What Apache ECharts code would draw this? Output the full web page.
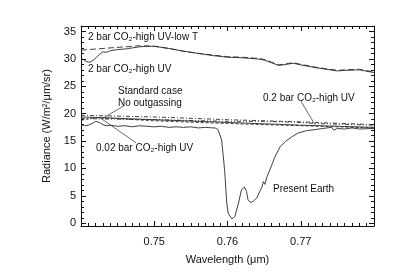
<!DOCTYPE html>
<html><head><meta charset="utf-8">
<script src="https://cdn.jsdelivr.net/npm/echarts@6/dist/echarts.min.js"></script>
<style>html,body{margin:0;padding:0;background:#fff}#c{width:399px;height:278px}</style>
</head><body><div id="c"></div>
<script>
// ---- data ----
const lowTWl   = [0.740,0.742,0.744,0.746,0.748,0.750,0.752,0.754,0.756,0.758,0.760,0.762,0.764,0.765,0.766,0.767,0.768,0.769,0.770,0.772,0.774,0.775,0.776,0.778,0.780];
const lowTVal  = [31.6,31.8,32.0,32.2,32.4,32.3,31.9,31.4,31.0,30.7,30.4,30.3,30.1,29.9,29.4,28.9,29.1,29.3,29.0,28.5,28.1,27.9,28.0,28.1,27.6];
const highUVWl  = [0.7402,0.7406,0.7410,0.7414,0.7418,0.7422,0.7426,0.7430,0.7435,0.7440,0.7450,0.7460,0.7470,0.7480,0.7490,0.750,0.752,0.754,0.756,0.758,0.760,0.762,0.764,0.765,0.766,0.767,0.768,0.769,0.770,0.772,0.774,0.775,0.776,0.778,0.780];
const highUVVal = [30.0,29.6,29.4,29.5,29.9,30.4,30.9,31.3,31.2,31.5,31.7,31.8,32.0,32.2,32.3,32.3,31.9,31.4,31.0,30.6,30.3,30.2,30.0,29.8,29.3,28.8,29.0,29.2,28.9,28.4,28.0,27.8,27.9,28.0,27.5];
const stdWl   = [0.740,0.750,0.760,0.770,0.780];
const stdVal  = [19.4,18.9,18.4,17.9,17.5];
const noOutWl  = [0.740,0.750,0.760,0.770,0.780];
const noOutVal = [19.7,19.4,18.9,18.5,18.0];
const co2p2Wl  = [0.740,0.750,0.760,0.765,0.770,0.772,0.780];
const co2p2Val = [19.1,18.9,18.6,18.6,18.4,18.2,17.9];
const co2p02Wl  = [0.740,0.742,0.745,0.750,0.760,0.770,0.780];
const co2p02Val = [18.8,19.3,19.1,18.7,18.2,17.8,17.4];
const earthWl  = [0.7400,0.7405,0.7410,0.7415,0.7420,0.7425,0.7430,0.7435,0.7440,0.7450,0.7460,0.7470,0.7480,0.7490,0.7500,0.7510,0.7520,0.7530,0.7540,0.7550,0.7560,0.7570,0.7580,0.7583,0.7587,0.7592,0.7596,0.7599,0.7601,0.7606,0.7610,0.7615,0.7619,0.7623,0.7626,0.7628,0.7631,0.7635,0.7640,0.7644,0.7647,0.7649,0.7651,0.7654,0.7656,0.7658,0.7660,0.7665,0.7672,0.7679,0.7688,0.7697,0.7708,0.7720,0.7730,0.7742,0.7745,0.7750,0.7760,0.7770,0.7780,0.7800];
const earthVal = [18.0,17.8,17.9,18.2,18.6,18.4,18.0,17.8,17.9,17.7,17.8,17.6,17.8,17.7,17.6,17.7,17.5,17.6,17.5,17.6,17.4,17.5,17.4,17.4,17.1,15.2,9.8,3.7,1.8,0.8,1.2,3.7,6.1,6.6,5.8,4.3,3.8,4.0,4.6,5.8,6.6,7.6,7.1,8.5,8.2,9.8,9.5,12.2,14.0,14.9,15.8,16.5,16.9,17.1,17.3,17.5,17.0,17.3,17.2,17.4,17.2,17.3];
const yMajor = [0,5,10,15,20,25,30,35];
const yMinor = [0,1,2,3,4,5,6,7,8,9,10,11,12,13,14,15,16,17,18,19,20,21,22,23,24,25,26,27,28,29,30,31,32,33,34,35,36];
// pointer lines [x1,y1,x2,y2]
const ptrNoOut = [0.74587,21.45,0.74304,19.21];
const ptrP02   = [0.74259,19.26,0.74751,14.69];
const ptrP2    = [0.77003,22.25,0.77195,17.98];

const zip = (a,b)=>a.map((v,i)=>[v,b[i]]);
const FONT = '"Liberation Sans", Arial, Helvetica, sans-serif';
const K = '#111';
const L = '#2a2a2a';

function lineS(wl,val,type){
  return {type:'line',data:zip(wl,val),showSymbol:false,symbol:'none',silent:true,
    lineStyle:{color:L,width:0.9,type:type},xAxisIndex:0,yAxisIndex:0,z:3};
}
function ptr(p){
  return {type:'line',data:[[p[0],p[1]],[p[2],p[3]]],showSymbol:false,symbol:'none',silent:true,
    lineStyle:{color:'#444',width:0.8},xAxisIndex:0,yAxisIndex:0,z:2};
}
const yBase = (pos,ticks,len,showLine,showLabel)=>({
  type:'value',position:pos,min:-0.5,max:36,
  axisLine:{show:showLine,lineStyle:{color:K,width:1}},
  axisTick:{show:true,inside:true,length:len,customValues:ticks,lineStyle:{color:K,width:1}},
  axisLabel:{show:showLabel,customValues:yMajor,color:'#111',fontSize:11,fontFamily:FONT,margin:5},
  splitLine:{show:false}
});
const xBase = (pos,showLabel)=>({
  type:'value',position:pos,min:0.74,max:0.78,interval:0.01,
  axisLine:{show:true,onZero:false,lineStyle:{color:K,width:1}},
  axisTick:{show:true,inside:true,length:5,lineStyle:{color:K,width:1}},
  minorTick:{show:true,splitNumber:10,length:3,lineStyle:{color:K,width:1}},
  axisLabel:{show:showLabel,showMinLabel:false,showMaxLabel:false,formatter:v=>v.toFixed(2),color:'#111',fontSize:11,fontFamily:FONT,margin:10},
  splitLine:{show:false},minorSplitLine:{show:false}
});

const txt = (s,x,y)=>({type:'text',x:x,y:y,silent:true,style:{text:s,fill:'#111',fontSize:10,fontFamily:FONT,verticalAlign:'middle',align:'left'}});

const chart = echarts.init(document.getElementById('c'),null,{renderer:'canvas'});
chart.setOption({
  animation:false,
  backgroundColor:'#fff',
  grid:{left:81,right:25,top:26,bottom:52,containLabel:false},
  xAxis:[
    Object.assign(xBase('bottom',true),{name:'Wavelength (\u03bcm)',nameLocation:'middle',nameGap:28,nameTextStyle:{color:'#111',fontSize:11,fontFamily:FONT}}),
    xBase('top',false)
  ],
  yAxis:[
    Object.assign(yBase('left',yMajor,5,true,true),{name:'Radiance (W/m\u00b2/\u03bcm/sr)',nameLocation:'middle',nameGap:27,nameTextStyle:{color:'#111',fontSize:11,fontFamily:FONT}}),
    yBase('left',yMinor,3,false,false),
    yBase('right',yMajor,5,true,false),
    yBase('right',yMinor,3,false,false)
  ],
  series:[
    lineS(lowTWl,lowTVal,[6,3]),
    lineS(highUVWl,highUVVal,'solid'),
    lineS(stdWl,stdVal,'solid'),
    lineS(noOutWl,noOutVal,[4,2,1,2]),
    lineS(co2p2Wl,co2p2Val,[4,2,1,2,1,2]),
    lineS(co2p02Wl,co2p02Val,[3,2]),
    lineS(earthWl,earthVal,'solid'),
    ptr(ptrNoOut),ptr(ptrP02),ptr(ptrP2)
  ],
  graphic:[
    txt('2 bar CO\u2082-high UV-low T',88,37),
    txt('2 bar CO\u2082-high UV',88,69),
    txt('Standard case',118,91),
    txt('No outgassing',118,103),
    txt('0.2 bar CO\u2082-high UV',263,98),
    txt('0.02 bar CO\u2082-high UV',96,148),
    txt('Present Earth',273,189)
  ]
});
</script></body></html>
